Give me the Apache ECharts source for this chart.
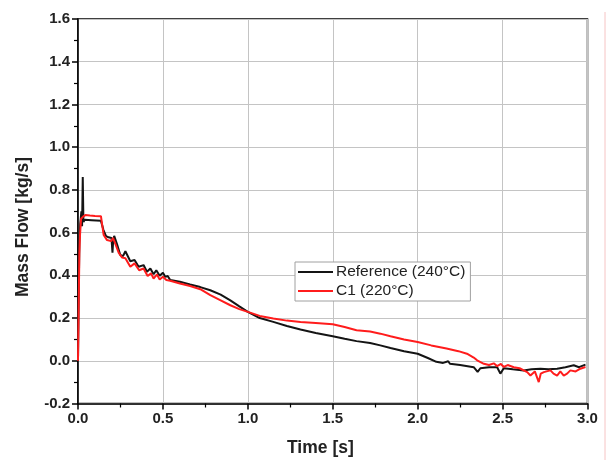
<!DOCTYPE html>
<html><head><meta charset="utf-8">
<script src="https://cdn.jsdelivr.net/npm/echarts@6/dist/echarts.min.js"></script>
<style>html,body{margin:0;padding:0;background:#fff}#c{width:608px;height:460px}</style>
</head><body><div id="c"></div>
<script>
var xTicks = [0, 0.5, 1.0, 1.5, 2.0, 2.5, 3.0];
var yTicks = [-0.2, 0, 0.2, 0.4, 0.6, 0.8, 1.0, 1.2, 1.4, 1.6];
var seriesNames = ['Reference (240°C)', 'C1 (220°C)'];

var refT = [0,0.004,0.008,0.013,0.02,0.024,0.028,0.032,0.04,0.08,0.135,0.15,0.165,0.18,0.197,0.203,0.207,0.213,0.23,0.249,0.265,0.279,0.308,0.333,0.357,0.386,0.406,0.426,0.445,0.461,0.481,0.5,0.514,0.528,0.543,0.6,0.66,0.72,0.779,0.84,0.897,0.95,1.0,1.07,1.15,1.23,1.31,1.4,1.5,1.57,1.64,1.72,1.78,1.84,1.92,2.0,2.06,2.11,2.15,2.18,2.19,2.25,2.33,2.353,2.369,2.42,2.468,2.487,2.507,2.56,2.624,2.67,2.723,2.77,2.821,2.87,2.919,2.95,2.988];
var refV = [0,0.3,0.55,0.64,0.7,0.63,0.86,0.65,0.66,0.658,0.655,0.612,0.584,0.578,0.575,0.506,0.56,0.585,0.545,0.495,0.49,0.513,0.466,0.472,0.44,0.448,0.417,0.432,0.405,0.424,0.398,0.412,0.393,0.397,0.378,0.37,0.357,0.345,0.33,0.31,0.283,0.255,0.229,0.2,0.182,0.163,0.146,0.13,0.115,0.103,0.092,0.083,0.072,0.06,0.045,0.033,0.013,-0.005,-0.01,-0.002,-0.014,-0.02,-0.03,-0.052,-0.035,-0.03,-0.03,-0.06,-0.035,-0.04,-0.045,-0.04,-0.037,-0.04,-0.037,-0.03,-0.021,-0.03,-0.018];

var c1T = [0,0.004,0.008,0.012,0.018,0.03,0.043,0.053,0.07,0.1,0.135,0.151,0.171,0.195,0.206,0.216,0.24,0.26,0.279,0.308,0.333,0.36,0.386,0.41,0.43,0.445,0.465,0.481,0.5,0.52,0.543,0.6,0.66,0.72,0.779,0.84,0.897,0.95,1.0,1.07,1.15,1.23,1.31,1.4,1.5,1.57,1.64,1.72,1.78,1.84,1.92,2.0,2.08,2.17,2.24,2.29,2.33,2.35,2.39,2.42,2.448,2.468,2.49,2.507,2.53,2.566,2.6,2.645,2.664,2.69,2.713,2.725,2.743,2.782,2.8,2.821,2.84,2.86,2.88,2.899,2.93,2.958,2.988];
var c1V = [0,0.25,0.5,0.59,0.665,0.675,0.682,0.69,0.68,0.678,0.677,0.589,0.565,0.56,0.575,0.555,0.505,0.483,0.48,0.44,0.456,0.424,0.432,0.397,0.409,0.385,0.404,0.38,0.393,0.378,0.375,0.362,0.35,0.335,0.307,0.283,0.26,0.242,0.229,0.21,0.198,0.188,0.182,0.177,0.171,0.158,0.143,0.137,0.127,0.115,0.1,0.088,0.072,0.057,0.045,0.033,0.015,0.002,-0.014,-0.02,-0.012,-0.025,-0.015,-0.029,-0.02,-0.03,-0.035,-0.053,-0.069,-0.05,-0.1,-0.06,-0.053,-0.045,-0.06,-0.069,-0.05,-0.069,-0.06,-0.045,-0.05,-0.037,-0.029];

function pairs(t, v){ return t.map(function(x,i){ return [x, v[i]]; }); }

var FONT = 'Liberation Sans, Arial, sans-serif';
var chart = echarts.init(document.getElementById('c'), null, {renderer:'canvas'});
chart.setOption({
  animation: false,
  backgroundColor: '#fff',
  grid: {left: 78, right: 20.5, top: 19, bottom: 56.5, show: true, borderColor: '#000', borderWidth: 1.5, backgroundColor: 'transparent'},
  xAxis: {
    type: 'value', min: xTicks[0], max: xTicks[xTicks.length-1], interval: 0.5,
    axisLine: {onZero: false, lineStyle: {color: '#000', width: 1.5}},
    axisTick: {inside: false, length: 6, lineStyle: {color: '#000', width: 1.5}},
    minorTick: {show: true, splitNumber: 2, length: 4, lineStyle: {color: '#000', width: 1.2}},
    splitLine: {show: true, lineStyle: {color: '#c4c4c4', width: 1}},
    axisLabel: {margin: 8, color: '#222', fontFamily: FONT, fontWeight: 'bold', fontSize: 15, formatter: function(v){ return v.toFixed(1); }}
  },
  yAxis: {
    type: 'value', min: yTicks[0], max: yTicks[yTicks.length-1], interval: 0.2,
    axisLine: {onZero: false, lineStyle: {color: '#000', width: 1.5}},
    axisTick: {inside: false, length: 6, lineStyle: {color: '#000', width: 1.5}},
    minorTick: {show: true, splitNumber: 2, length: 4, lineStyle: {color: '#000', width: 1.2}},
    splitLine: {show: true, lineStyle: {color: '#c4c4c4', width: 1}},
    axisLabel: {margin: 8, color: '#222', fontFamily: FONT, fontWeight: 'bold', fontSize: 15, formatter: function(v){ return v.toFixed(1); }}
  },
  legend: {
    orient: 'vertical', left: 295, top: 262,
    backgroundColor: '#fff', borderColor: '#a0a0a0', borderWidth: 1, borderRadius: 0,
    padding: [2, 5, 2, 3], itemGap: 3, itemWidth: 35, itemHeight: 2, icon: 'rect',
    textStyle: {fontFamily: FONT, fontSize: 15.5, color: '#222', padding: [0,0,0,-2]},
    data: seriesNames
  },
  series: [
    {name: seriesNames[0], type: 'line', data: pairs(refT, refV), symbol: 'none', lineStyle: {color: '#141414', width: 2}, itemStyle: {color: '#141414'}, z: 3},
    {name: seriesNames[1], type: 'line', data: pairs(c1T, c1V), symbol: 'none', lineStyle: {color: '#ff1c1c', width: 2}, itemStyle: {color: '#ff1c1c'}, z: 4}
  ],
  graphic: [
    {type: 'text', left: 14, top: 157, rotation: Math.PI/2, style: {text: 'Mass Flow [kg/s]', font: 'bold 17.5px ' + FONT, fill: '#222'}, silent: true},
    {type: 'text', left: 287, top: 439, style: {text: 'Time [s]', font: 'bold 17.5px ' + FONT, fill: '#222'}, silent: true},
    {type: 'line', shape: {x1: 605, y1: 12, x2: 605, y2: 460}, style: {stroke: '#f6c4c4', lineWidth: 1}, silent: true}
  ]
});
</script></body></html>
